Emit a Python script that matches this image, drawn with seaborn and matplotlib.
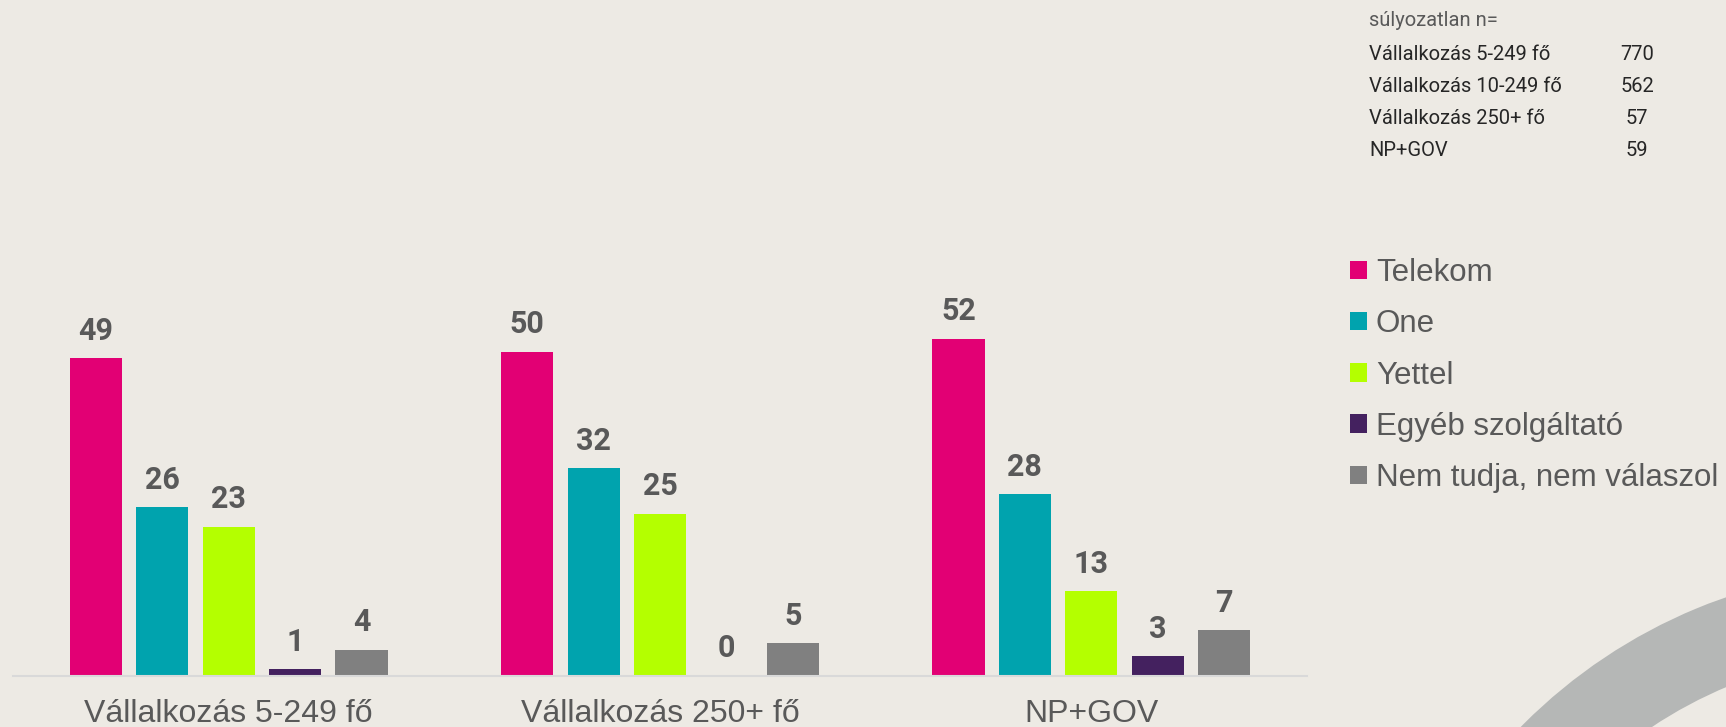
import pandas as pd
import matplotlib
matplotlib.use("Agg")
import matplotlib.pyplot as plt
from matplotlib.patches import Annulus
import seaborn as sns

# Chart data
categories = ["Vállalkozás 5-249 fő", "Vállalkozás 250+ fő", "NP+GOV"]
providers = ["Telekom", "One", "Yettel", "Egyéb szolgáltató", "Nem tudja, nem válaszol"]
telekom = [49, 50, 52]
one = [26, 32, 28]
yettel = [23, 25, 13]
egyeb = [1, 0, 3]
nem_tudja = [4, 5, 7]

# unweighted sample sizes (top right box)
sample_labels = ["Vállalkozás 5-249 fő", "Vállalkozás 10-249 fő", "Vállalkozás 250+ fő", "NP+GOV"]
sample_n = [770, 562, 57, 59]

colors = ["#E20074", "#00A3AE", "#B4FF00", "#44215F", "#808080"]
BG = "#EDEAE4"
TXT = "#595959"

# long format for seaborn
rows = []
for prov, vals in zip(providers, [telekom, one, yettel, egyeb, nem_tudja]):
    for cat, v in zip(categories, vals):
        rows.append({"category": cat, "provider": prov, "value": v})
df = pd.DataFrame(rows)

sns.set_style("white")
plt.rcParams["font.family"] = ["Liberation Sans", "DejaVu Sans"]

W, H = 1726, 727
fig = plt.figure(figsize=(W / 100, H / 100), dpi=100, facecolor=BG)

# decorative grey ring in the bottom right corner
ax_bg = fig.add_axes([0, 0, 1, 1], zorder=-1)
ax_bg.set_xlim(0, W)
ax_bg.set_ylim(H, 0)
ax_bg.axis("off")
ax_bg.add_patch(Annulus((1900, 1100), 532, 84, color="#B5B7B6", lw=0))

ax = fig.add_axes([13 / W, (H - 675.7) / H, 1294 / W, 388.8 / H])
ax.set_facecolor("none")

sns.barplot(data=df, x="category", y="value", hue="provider",
            order=categories, hue_order=providers, palette=colors,
            width=0.77, gap=0.216, ax=ax, saturation=1, linewidth=0)

for cont in ax.containers:
    ax.bar_label(cont, fmt="%.0f", padding=9, fontsize=22, fontweight="bold",
                 color=TXT, family="Roboto")

ax.set_ylim(0, 60)
ax.set_xlim(-0.5, 2.5)
ax.set_xlabel("")
ax.set_ylabel("")
ax.set_yticks([])
ax.tick_params(axis="x", length=0, pad=17, labelsize=23, labelcolor=TXT)
for s in ["top", "right", "left"]:
    ax.spines[s].set_visible(False)
ax.spines["bottom"].set_color("#D9D9D9")
ax.spines["bottom"].set_linewidth(1.5)

handles, labels = ax.get_legend_handles_labels()
ax.get_legend().remove()
fig.legend(handles, labels, loc="upper left",
           bbox_to_anchor=(1350 / W, 1 - 258 / H), bbox_transform=fig.transFigure,
           frameon=False, fontsize=22.5, labelcolor=TXT,
           handlelength=0.53, handleheight=0.53, handletextpad=0.3,
           labelspacing=0.68, borderpad=0, borderaxespad=0)

# sample size box
fig.text(1369 / W, 1 - 20 / H, "súlyozatlan n=", fontsize=14.5, family="Roboto",
         color=TXT, va="center", ha="left")
for i, (lab, n) in enumerate(zip(sample_labels, sample_n)):
    y = 1 - (54 + i * 32) / H
    fig.text(1369 / W, y, lab, fontsize=14.5, family="Roboto", color="#262626",
             va="center", ha="left")
    fig.text(1637 / W, y, str(n), fontsize=14.5, family="Roboto", color="#262626",
             va="center", ha="center")

fig.savefig("out.png", dpi=100, facecolor=BG)
